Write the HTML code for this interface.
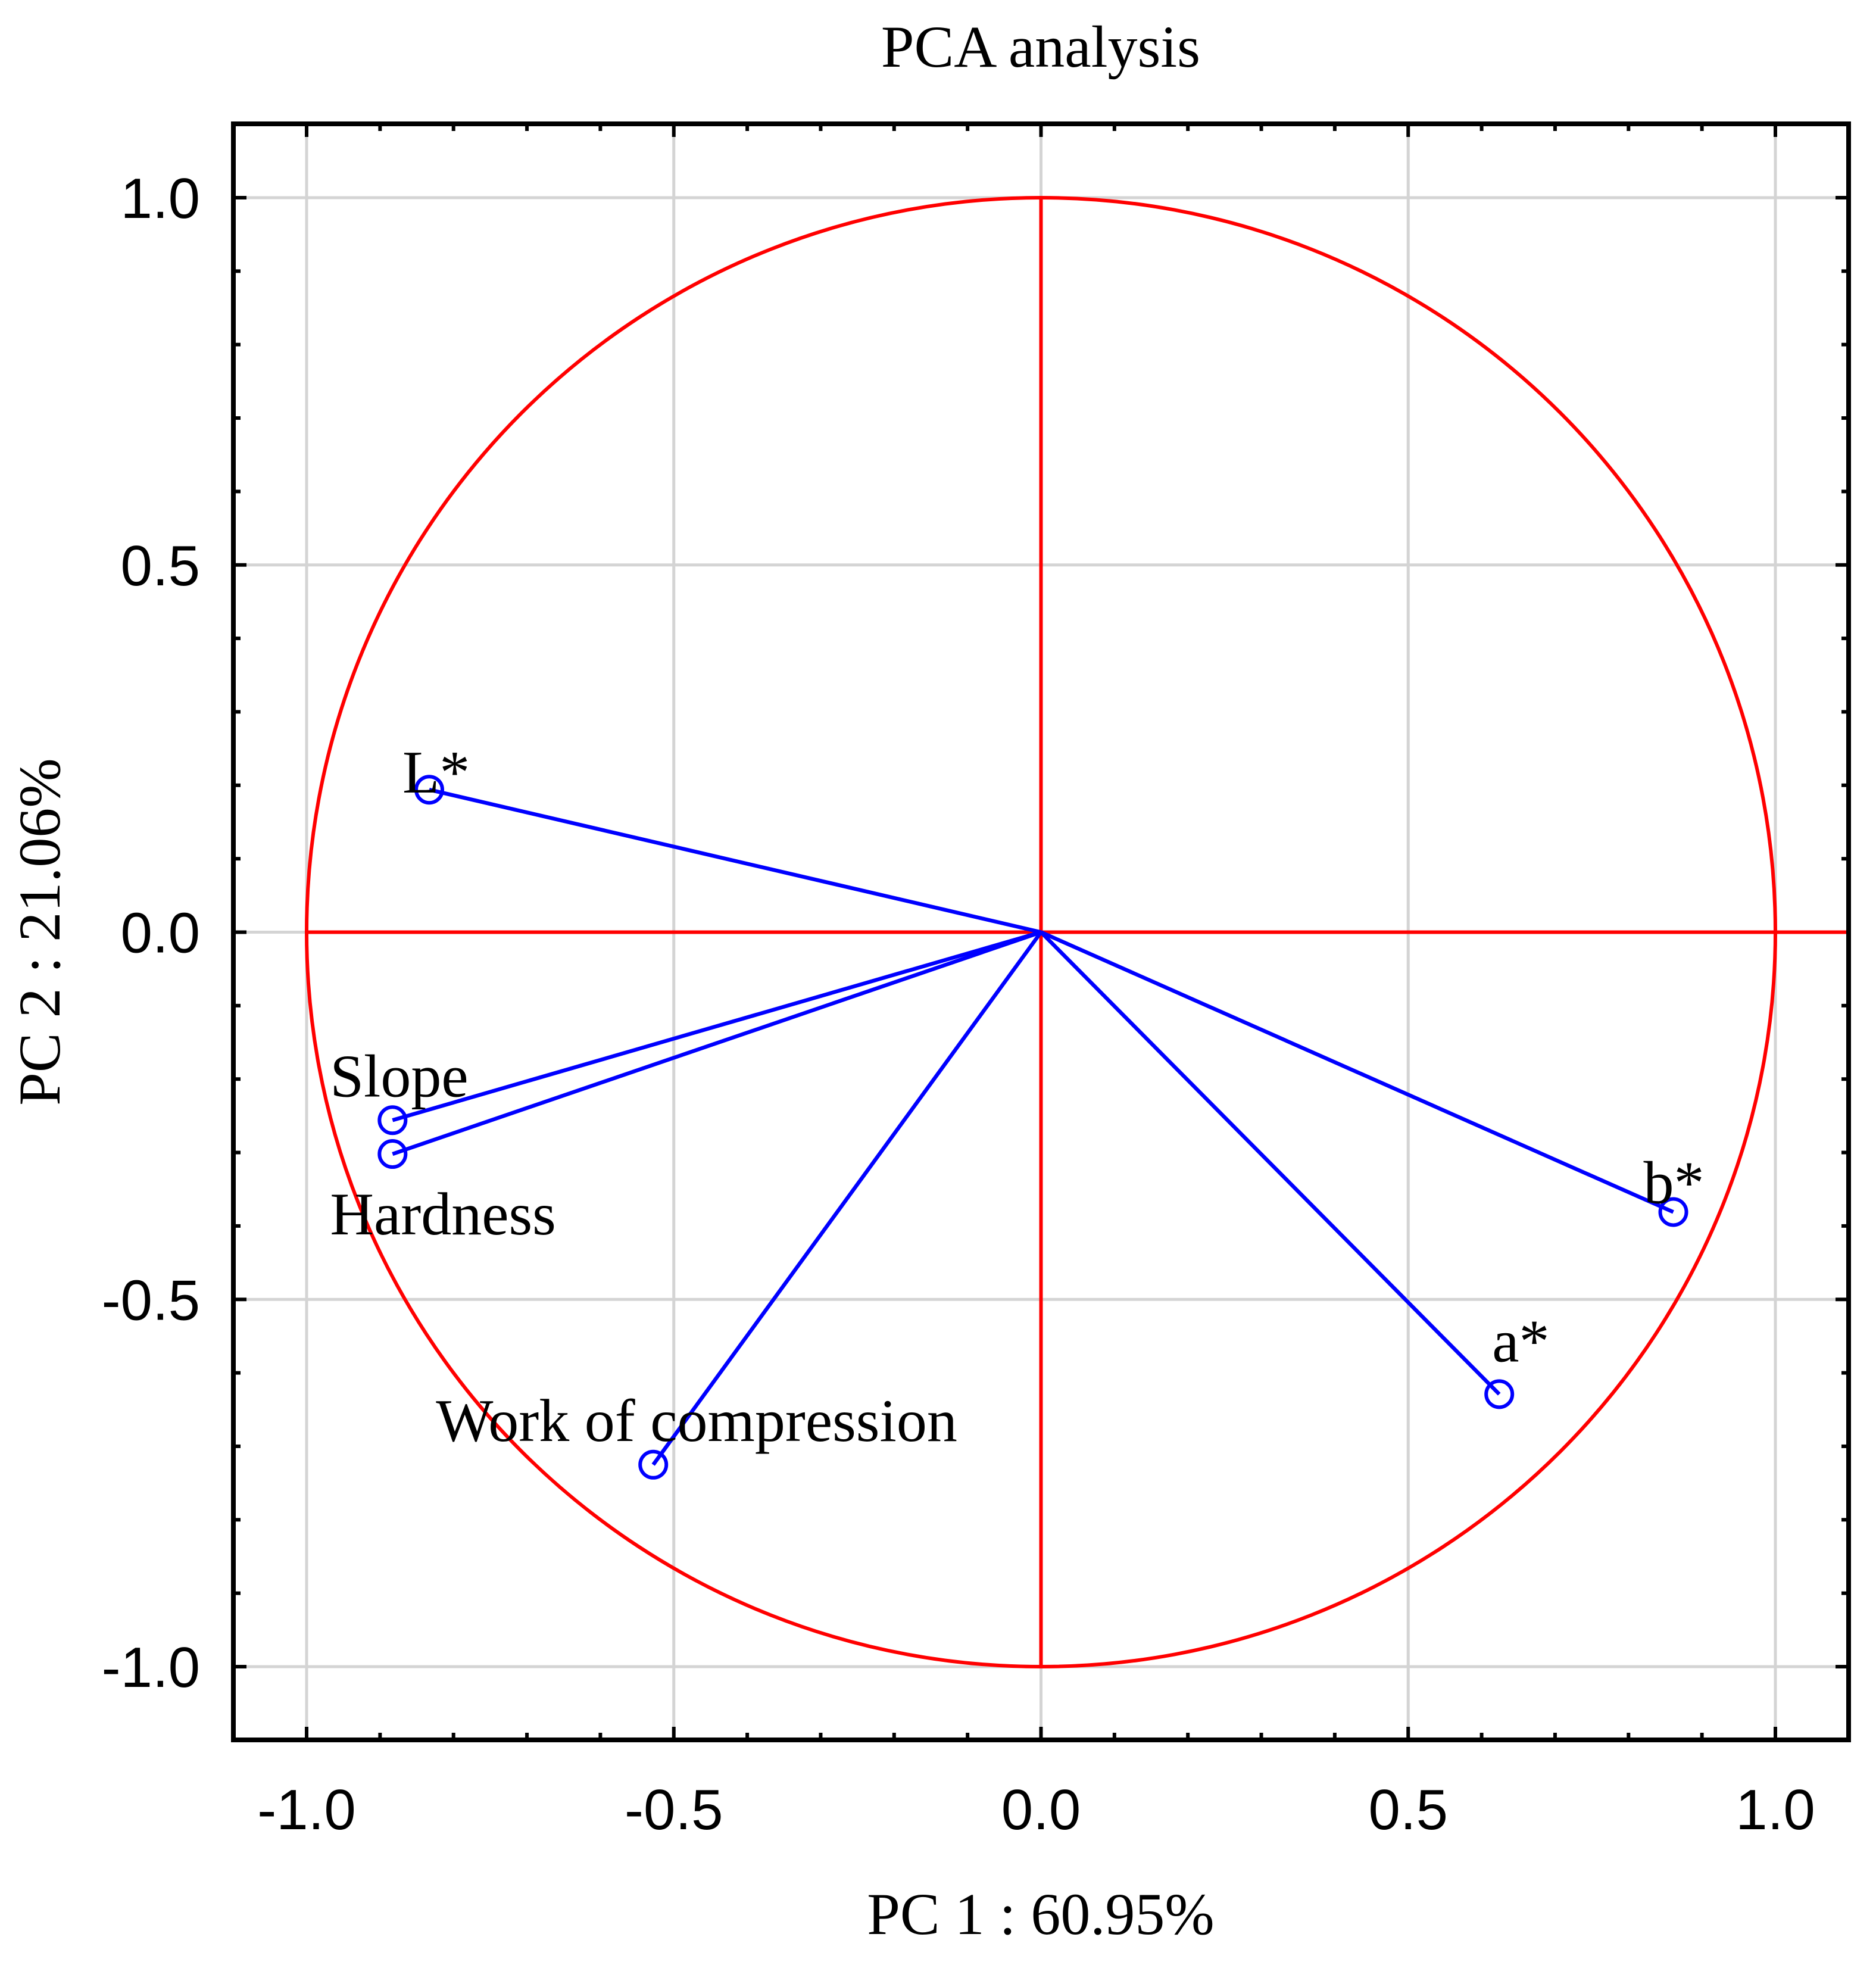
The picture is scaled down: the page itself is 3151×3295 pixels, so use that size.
<!DOCTYPE html>
<html><head><meta charset="utf-8"><style>
html,body{margin:0;padding:0;background:#fff}
svg{display:block}
</style></head><body>
<svg id="chart" width="3151" height="3295" viewBox="0 0 3151 3295" xmlns="http://www.w3.org/2000/svg">
<text x="1748" y="112" text-anchor="middle" font-family="Liberation Serif, serif" font-size="100">PCA analysis</text>
<text x="1748" y="3248" text-anchor="middle" font-family="Liberation Serif, serif" font-size="100">PC 1 : 60.95%</text>
<text transform="translate(100,1565) rotate(-90)" text-anchor="middle" font-family="Liberation Serif, serif" font-size="100">PC 2 : 21.06%</text>
<g id="grid"></g>
<g id="axes"></g>
<g id="marks"></g>
<rect x="392" y="208" width="2713" height="2714" fill="none" stroke="#000" stroke-width="8"/>
</svg>
<script>
const variables = ["L*", "Slope", "Hardness", "Work of compression", "a*", "b*"];
const pc1Values = [-0.833, -0.883, -0.883, -0.528, 0.624, 0.861];
const pc2Values = [0.194, -0.256, -0.302, -0.725, -0.629, -0.381];
const majorTicks = [-1.0, -0.5, 0.0, 0.5, 1.0];
const tickLabels = ["-1.0", "-0.5", "0.0", "0.5", "1.0"];

const NS = "http://www.w3.org/2000/svg";
const X0 = 1748.5, Y0 = 1565.5, U = 1233.5;
const FL = 392, FR = 3105, FT = 208, FB = 2922;
function sx(v){return X0 + v*U;}
function sy(v){return Y0 - v*U;}
function mk(tag, attrs, parent){const e=document.createElementNS(NS,tag);for(const k in attrs)e.setAttribute(k,attrs[k]);parent.appendChild(e);return e;}
const grid=document.getElementById('grid'), axes=document.getElementById('axes'), marks=document.getElementById('marks');

majorTicks.forEach((t,i)=>{
  const gx=mk('line',{x1:sx(t),x2:sx(t),y1:FT,y2:FB,stroke:'#d4d4d4','stroke-width':5},grid);
  
  
  const gy=mk('line',{x1:FL,x2:FR,y1:sy(t),y2:sy(t),stroke:'#d4d4d4','stroke-width':5},grid);
  
  
  const lx=mk('text',{x:sx(t),y:3072,'text-anchor':'middle','font-family':'Liberation Sans, sans-serif','font-size':96},axes);
  lx.textContent=tickLabels[i];
  
  
  const ly=mk('text',{x:336,y:sy(t)+34,'text-anchor':'end','font-family':'Liberation Sans, sans-serif','font-size':96},axes);
  ly.textContent=tickLabels[i];
  
  
});
for(let k=-11;k<=11;k++){
  const v=k/10; const major=(k%5===0); const len=major?22:12;
  if(sx(v)>FL+3 && sx(v)<FR-3){
    const a=mk('line',{x1:sx(v),x2:sx(v),y1:FT,y2:FT+len,stroke:'#000','stroke-width':6},axes);
     
    const b=mk('line',{x1:sx(v),x2:sx(v),y1:FB,y2:FB-len,stroke:'#000','stroke-width':6},axes);
     
  }
  if(sy(v)>FT+3 && sy(v)<FB-3){
    const a=mk('line',{x1:FL,x2:FL+len,y1:sy(v),y2:sy(v),stroke:'#000','stroke-width':6},axes);
     
    const b=mk('line',{x1:FR,x2:FR-len,y1:sy(v),y2:sy(v),stroke:'#000','stroke-width':6},axes);
     
  }
}
const circ=mk('circle',{cx:sx(0),cy:sy(0),r:U,fill:'none',stroke:'#ff0000','stroke-width':6},marks);


const hx=mk('line',{x1:sx(-1),x2:FR,y1:sy(0),y2:sy(0),stroke:'#ff0000','stroke-width':6},marks);


const vy=mk('line',{x1:sx(0),x2:sx(0),y1:sy(1),y2:sy(-1),stroke:'#ff0000','stroke-width':6},marks);



const labelOffsets=[[-45,5],[-105,-40],[-105,135],[-365,-40],[-12,-55],[-50,-15]];
variables.forEach((name,i)=>{
  const x=sx(pc1Values[i]), y=sy(pc2Values[i]);
  const ln=mk('line',{x1:sx(0),y1:sy(0),x2:x,y2:y,stroke:'#0000ff','stroke-width':6.5},marks);
  
  
  const c=mk('circle',{cx:x,cy:y,r:22,fill:'none',stroke:'#0000ff','stroke-width':6},marks);
  
  
  const t=mk('text',{x:x+labelOffsets[i][0],y:y+labelOffsets[i][1],'font-family':'Liberation Serif, serif','font-size':102},marks);
  t.textContent=name;
  
  
});
</script>
</body></html>
